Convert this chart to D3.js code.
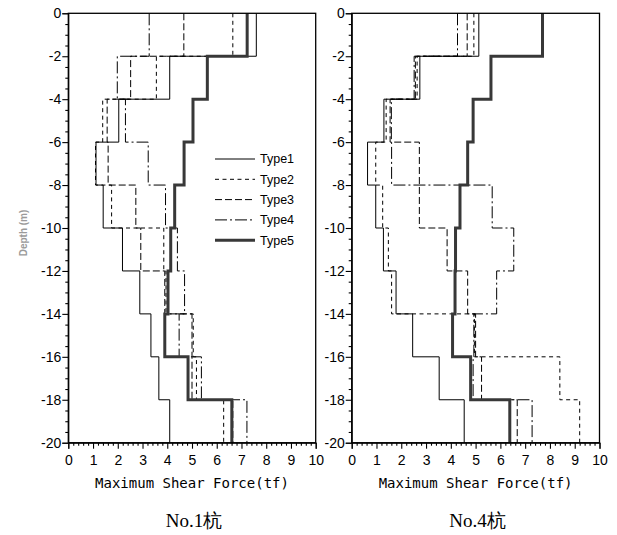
<!DOCTYPE html>
<html>
<head>
<meta charset="utf-8">
<script src="https://cdn.jsdelivr.net/npm/d3@7"></script>
<style>
  body { margin: 0; background: #fff; }
  svg { display: block; }
</style>
</head>
<body>
<div id="chart"></div>
<script>
// depth boundaries of the 2 m layers (m)
var depths = [0, -2, -4, -6, -8, -10, -12, -14, -16, -18, -20];
var yMajor = [0, -2, -4, -6, -8, -10, -12, -14, -16, -18, -20];
var xMajor = [0, 1, 2, 3, 4, 5, 6, 7, 8, 9, 10];
var typeNames = ["Type1", "Type2", "Type3", "Type4", "Type5"];

// max shear force (tf) per layer, pile No.1
var no1Type1 = [7.6, 4.1, 2.04, 1.12, 1.41, 2.19, 2.89, 3.34, 3.66, 4.1];
var no1Type2 = [6.65, 3.56, 1.39, 1.1, 1.75, 3.86, 3.95, 5.05, 5.18, 6.28];
var no1Type3 = [4.67, 2.52, 1.57, 1.61, 2.73, 2.93, 3.9, 5.0, 5.0, 6.65];
var no1Type4 = [3.27, 1.98, 2.31, 3.23, 3.93, 4.41, 4.7, 4.48, 5.38, 7.22];
var no1Type5 = [7.23, 5.62, 5.04, 4.68, 4.3, 4.14, 4.03, 3.9, 4.84, 6.61];

// pile No.4
var no4Type1 = [5.13, 2.75, 1.3, 0.64, 0.97, 1.28, 1.79, 2.46, 3.53, 4.54];
var no4Type2 = [4.93, 2.64, 1.39, 0.97, 1.25, 1.48, 1.61, 4.95, 8.4, 9.2];
var no4Type3 = [4.66, 2.57, 1.55, 2.73, 2.73, 3.85, 4.68, 5.0, 5.24, 6.68];
var no4Type4 = [4.27, 2.52, 1.6, 1.61, 5.67, 6.54, 5.85, 4.93, 4.9, 7.28];
var no4Type5 = [7.7, 5.62, 4.9, 4.68, 4.37, 4.19, 4.17, 4.07, 4.8, 6.38];

var styles = [
  {dash: null, width: 1, color: "#000"},
  {dash: "4,3.5", width: 1, color: "#000"},
  {dash: "7,3", width: 1, color: "#000"},
  {dash: "12,3,2,3", width: 1, color: "#000"},
  {dash: null, width: 3, color: "#383838"}
];

var panels = [
  {title: "No.1杭", left: 68.3, right: 315.7, legend: true,
   series: [no1Type1, no1Type2, no1Type3, no1Type4, no1Type5]},
  {title: "No.4杭", left: 351.7, right: 599.5, legend: false,
   series: [no4Type1, no4Type2, no4Type3, no4Type4, no4Type5]}
];

var width = 617, height = 535;
var plotTop = 13.3, plotBottom = 442.7;

var svg = d3.select("#chart").append("svg")
  .attr("width", width)
  .attr("height", height);

var y = d3.scaleLinear().domain([0, -20]).range([plotTop, plotBottom]);

var stepLine = d3.line()
  .x(function(d) { return d[0]; })
  .y(function(d) { return d[1]; });

// turn layer values into a vertical step path
function stepPoints(values, x) {
  var pts = [];
  values.forEach(function(v, i) {
    pts.push([x(v), y(depths[i])]);
    pts.push([x(v), y(depths[i + 1])]);
  });
  return pts;
}

panels.forEach(function(p) {
  var x = d3.scaleLinear().domain([0, 10]).range([p.left, p.right]);
  var g = svg.append("g");

  // series
  p.series.forEach(function(values, i) {
    var s = styles[i];
    g.append("path")
      .datum(stepPoints(values, x))
      .attr("fill", "none")
      .attr("stroke", s.color)
      .attr("stroke-width", s.width)
      .attr("stroke-dasharray", s.dash)
      .attr("d", stepLine);
  });

  // frame
  g.append("rect")
    .attr("x", p.left).attr("y", plotTop)
    .attr("width", p.right - p.left).attr("height", plotBottom - plotTop)
    .attr("fill", "none")
    .attr("stroke", "#000")
    .attr("stroke-width", 1.3);

  // y axis
  var yMinor = d3.range(0, -20.01, -0.5).filter(function(d) { return d % 2 !== 0; });
  g.append("g")
    .attr("transform", "translate(" + p.left + ",0)")
    .call(d3.axisLeft(y).tickValues(yMajor).tickSize(6).tickPadding(1)
      .tickFormat(function(d) { return String(d); }));
  g.append("g")
    .attr("transform", "translate(" + p.left + ",0)")
    .call(d3.axisLeft(y).tickValues(yMinor).tickSize(3).tickFormat(""))
    .select(".domain").remove();

  // x axis
  var xMinor = d3.range(0, 10.01, 0.2).filter(function(d) { return Math.abs(d - Math.round(d)) > 0.01; });
  g.append("g")
    .attr("transform", "translate(0," + plotBottom + ")")
    .call(d3.axisBottom(x).tickValues(xMajor).tickSize(6).tickPadding(6));
  g.append("g")
    .attr("transform", "translate(0," + plotBottom + ")")
    .call(d3.axisBottom(x).tickValues(xMinor).tickSize(3).tickFormat(""))
    .select(".domain").remove();

  svg.selectAll(".tick text")
    .attr("font-family", "'Liberation Sans', Arial, sans-serif")
    .attr("font-size", 14)
    .attr("fill", "#000");
  svg.selectAll(".domain, .tick line").attr("stroke", "#000").attr("stroke-width", 1.1);

  // x axis title
  g.append("text")
    .attr("x", (p.left + p.right) / 2)
    .attr("y", 488)
    .attr("text-anchor", "middle")
    .attr("font-family", "'DejaVu Sans Mono', monospace")
    .attr("font-size", 14)
    .text("Maximum Shear Force(tf)");

  // panel caption
  g.append("text")
    .attr("x", (p.left + p.right) / 2 + 2)
    .attr("y", 527)
    .attr("text-anchor", "middle")
    .attr("font-family", "'Liberation Serif', 'Times New Roman', serif")
    .attr("font-size", 19)
    .text(p.title);

  // legend
  if (p.legend) {
    typeNames.forEach(function(name, i) {
      var s = styles[i];
      var ly = 159 + i * 20.3;
      g.append("line")
        .attr("x1", 215).attr("x2", 255)
        .attr("y1", ly).attr("y2", ly)
        .attr("stroke", s.color)
        .attr("stroke-width", s.width)
        .attr("stroke-dasharray", s.dash);
      g.append("text")
        .attr("x", 260).attr("y", ly)
        .attr("dy", "0.35em")
        .attr("font-family", "'Liberation Sans', Arial, sans-serif")
        .attr("font-size", 12.5)
        .text(name);
    });
  }
});

// y axis title
svg.append("text")
  .attr("transform", "translate(27,233) rotate(-90)")
  .attr("text-anchor", "middle")
  .attr("font-family", "'Liberation Sans', Arial, sans-serif")
  .attr("font-size", 10)
  .attr("font-weight", "bold")
  .attr("fill", "#9a9a9a")
  .text("Depth (m)");
</script>
</body>
</html>
